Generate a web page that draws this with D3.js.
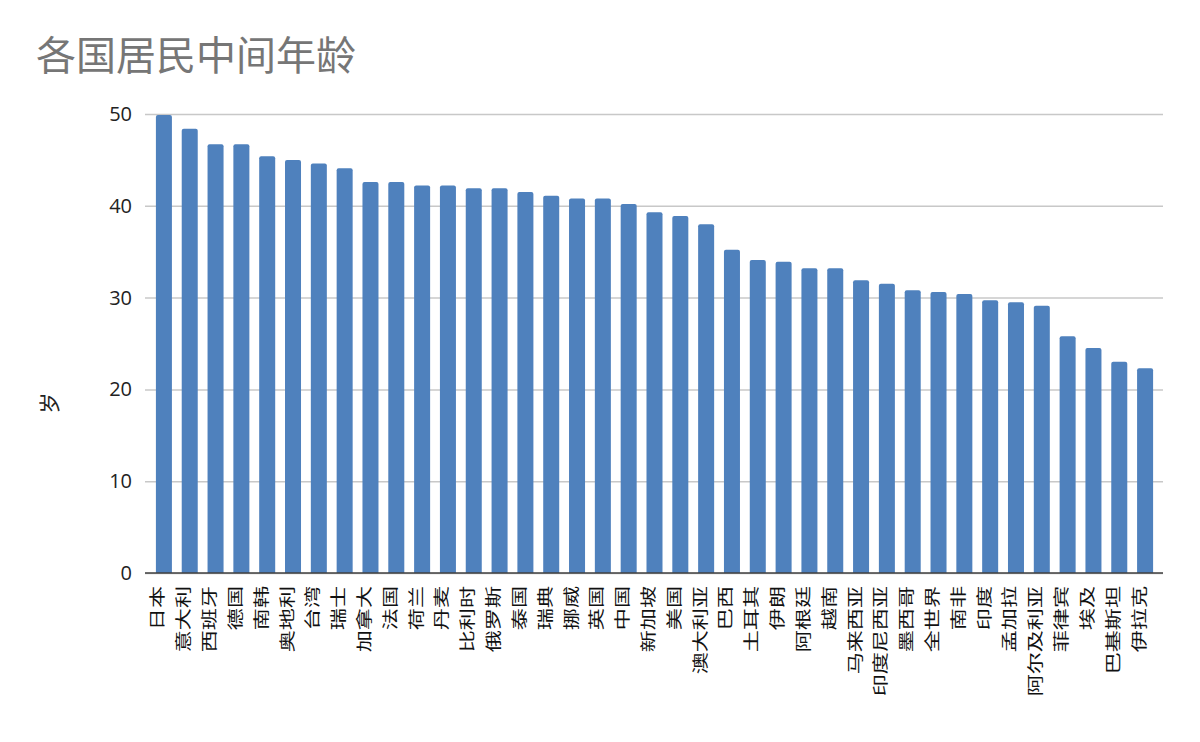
<!DOCTYPE html>
<html lang="zh">
<head>
<meta charset="utf-8">
<title>各国居民中间年龄</title>
<script src="https://cdn.jsdelivr.net/npm/d3@7"></script>
<style>
  body { margin: 0; background: #fff; }
  .tick text { font-family: "Open Sans", "Noto Sans", sans-serif; }
  .cat text { font-family: "Noto Sans CJK SC", sans-serif; }
</style>
</head>
<body>
<div id="chart"></div>
<script>
// data
var countries = ["日本","意大利","西班牙","德国","南韩","奥地利","台湾","瑞士","加拿大","法国",
  "荷兰","丹麦","比利时","俄罗斯","泰国","瑞典","挪威","英国","中国","新加坡",
  "美国","澳大利亚","巴西","土耳其","伊朗","阿根廷","越南","马来西亚","印度尼西亚","墨西哥",
  "全世界","南非","印度","孟加拉","阿尔及利亚","菲律宾","埃及","巴基斯坦","伊拉克"];
var ages = [49.9, 48.4, 46.7, 46.7, 45.4, 45.0, 44.6, 44.1, 42.6, 42.6,
  42.2, 42.2, 41.9, 41.9, 41.5, 41.1, 40.8, 40.8, 40.2, 39.3,
  38.9, 38.0, 35.2, 34.1, 33.9, 33.2, 33.2, 31.9, 31.5, 30.8,
  30.6, 30.4, 29.7, 29.5, 29.1, 25.8, 24.5, 23.0, 22.3];
var yTicks = [0, 10, 20, 30, 40, 50];

var W = 1200, H = 742;
var plot = {left: 145, right: 1163, top: 114, bottom: 573};

var svg = d3.select("#chart").append("svg")
  .attr("width", W).attr("height", H);

var x = d3.scaleBand()
  .domain(countries)
  .range([151, 1158])
  .paddingInner(0.38)
  .paddingOuter(0.19);

var y = d3.scaleLinear()
  .domain([0, 50])
  .range([plot.bottom, plot.top]);

// gridlines + y labels
var yAxis = d3.axisLeft(y)
  .tickValues(yTicks)
  .tickSize(-(plot.right - plot.left))
  .tickPadding(12);

var gy = svg.append("g")
  .attr("transform", "translate(" + plot.left + ",0)")
  .call(yAxis);
gy.select(".domain").remove();
gy.selectAll(".tick line")
  .attr("stroke", "#c8c8c8")
  .attr("stroke-width", 1.5);
gy.selectAll(".tick text")
  .attr("font-size", 20)
  .attr("fill", "#222")
  .attr("x", -13);

// bars, top corners slightly rounded
var r = 2;
svg.append("g").selectAll("path")
  .data(countries)
  .enter().append("path")
  .attr("fill", "#4f81bd")
  .attr("d", function(d, i) {
    var x0 = x(d), x1 = x(d) + x.bandwidth();
    var y0 = y(ages[i]), y1 = y(0);
    return "M" + x0 + "," + y1 +
      "V" + (y0 + r) +
      "Q" + x0 + "," + y0 + " " + (x0 + r) + "," + y0 +
      "H" + (x1 - r) +
      "Q" + x1 + "," + y0 + " " + x1 + "," + (y0 + r) +
      "V" + y1 + "Z";
  });

// x axis line
svg.append("line")
  .attr("x1", plot.left).attr("x2", plot.right)
  .attr("y1", plot.bottom).attr("y2", plot.bottom)
  .attr("stroke", "#404040")
  .attr("stroke-width", 1.5);

// category labels, rotated and stretched along the text like the original
svg.append("g").attr("class", "cat")
  .selectAll("text")
  .data(countries)
  .enter().append("text")
  .attr("transform", function(d) {
    return "translate(" + (x(d) + x.bandwidth() / 2 - 0.5) + ",586) rotate(-90) scale(1.38,1)";
  })
  .attr("text-anchor", "end")
  .attr("font-size", 16)
  .attr("fill", "#111")
  .text(function(d) { return d; });

// title
svg.append("text")
  .attr("x", 36).attr("y", 70)
  .attr("font-family", "Noto Sans CJK SC, sans-serif")
  .attr("font-size", 40)
  .attr("fill", "#767676")
  .text("各国居民中间年龄");

// y axis title
svg.append("text")
  .attr("transform", "translate(57,403) rotate(-90)")
  .attr("text-anchor", "middle")
  .attr("font-family", "Noto Sans CJK SC, sans-serif")
  .attr("font-size", 21)
  .attr("fill", "#222")
  .text("岁");
</script>
</body>
</html>
